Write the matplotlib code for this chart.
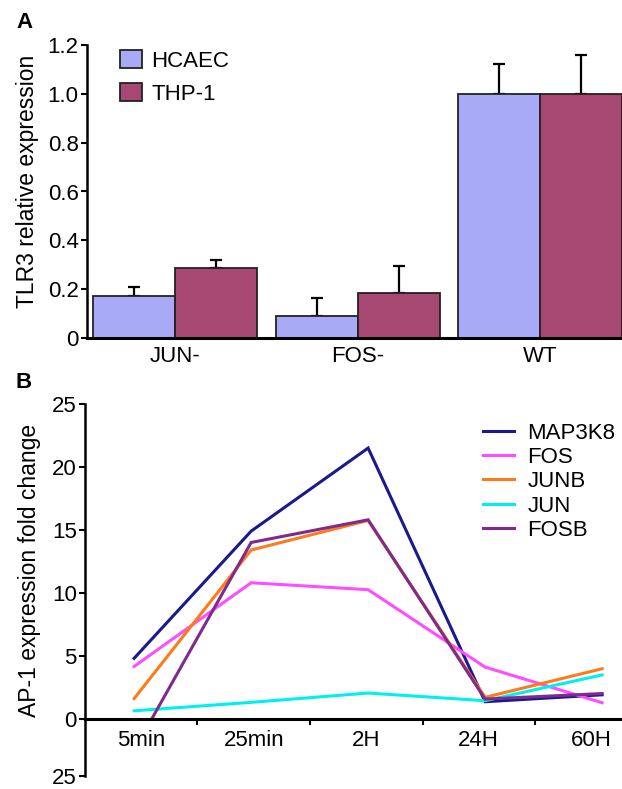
import matplotlib
matplotlib.use("Agg")
import matplotlib.pyplot as plt
from matplotlib.patches import Rectangle
import numpy as np

plt.rcParams['font.family'] = ['Liberation Sans', 'DejaVu Sans']

# ---- Panel A data ----
groups = ["JUN-", "FOS-", "WT"]
hcaec = [0.17, 0.09, 1.0]
hcaec_err = [0.037, 0.073, 0.124]
thp1 = [0.288, 0.186, 1.0]
thp1_err = [0.032, 0.107, 0.16]
a_yticks = [0, 0.2, 0.4, 0.6, 0.8, 1.0, 1.2]
a_yticklabels = ["0", "0.2", "0.4", "0.6", "0.8", "1.0", "1.2"]

# ---- Panel B data ----
timepoints = ["5min", "25min", "2H", "24H", "60H"]
MAP3K8 = [4.8, 14.9, 21.5, 1.35, 1.9]
FOS = [4.15, 10.8, 10.25, 4.1, 1.27]
JUNB = [1.6, 13.4, 15.75, 1.7, 3.97]
JUN = [0.63, 1.3, 2.04, 1.43, 3.48]
FOSB = [-2.5, 14.0, 15.8, 1.56, 2.0]
b_yticks = [-4.55, 0, 5, 10, 15, 20, 25]
b_yticklabels = ["25", "0", "5", "10", "15", "20", "25"]

W, H = 622, 789
fig = plt.figure(figsize=(W / 100, H / 100), dpi=100)

FS = 16

# ---------------- Panel A ----------------
axA = fig.add_axes([87 / W, 1 - 338 / H, (W - 87) / W, (338 - 45) / H])
x = np.arange(len(groups))
bw = 0.45
c1 = "#A8AAF8"
c2 = "#A64872"
axA.bar(x - bw / 2, hcaec, bw, color=c1, edgecolor="#222222", linewidth=1.3,
        label="HCAEC", zorder=2)
axA.bar(x + bw / 2, thp1, bw, color=c2, edgecolor="#222222", linewidth=1.3,
        label="THP-1", zorder=2)
axA.errorbar(x - bw / 2, hcaec, yerr=[np.zeros(3), hcaec_err], fmt="none",
             ecolor="black", elinewidth=1.6, capsize=4, capthick=1.6, zorder=1)
axA.errorbar(x + bw / 2, thp1, yerr=[np.zeros(3), thp1_err], fmt="none",
             ecolor="black", elinewidth=1.6, capsize=4, capthick=1.6, zorder=1)
axA.set_xlim(-0.484, 2.45)
axA.set_ylim(0, 1.2)
axA.set_yticks(a_yticks)
axA.set_yticklabels(a_yticklabels)
axA.set_xticks(x)
axA.set_xticklabels(groups)
axA.tick_params(axis="x", length=0, pad=6, labelsize=FS)
axA.tick_params(axis="y", length=4, width=1.5, direction="out", pad=2,
                labelsize=FS)
for s in ["top", "right"]:
    axA.spines[s].set_visible(False)
axA.spines["left"].set_linewidth(1.8)
axA.spines["bottom"].set_linewidth(2.2)
axA.set_ylabel("TLR3 relative expression", fontsize=16.5)
axA.yaxis.set_label_coords(-0.09, 0.534)
leg = axA.legend(loc="upper left", bbox_to_anchor=(0.062, 0.983), frameon=False,
                 fontsize=FS, handlelength=1.0, handleheight=0.9,
                 handletextpad=0.4, labelspacing=0.5, borderaxespad=0,
                 borderpad=0)
fig.text(24 / W, 1 - 23 / H, "A", fontsize=16, fontweight="bold",
         ha="center", va="center")

# ---------------- Panel B ----------------
axB = fig.add_axes([85 / W, 1 - 776 / H, (W - 85) / W, (776 - 404) / H])
xb = np.arange(len(timepoints))
series = [("MAP3K8", MAP3K8, "#1A1A8C"),
          ("FOS", FOS, "#FF4DFF"),
          ("JUNB", JUNB, "#FF7A1A"),
          ("JUN", JUN, "#00F0F0"),
          ("FOSB", FOSB, "#7F2A8C")]
xmin, xmax = -0.42, 4.17
for name, vals, col in series:
    ln, = axB.plot(xb, vals, color=col, linewidth=2.2, label=name,
                   solid_joinstyle="miter")
    clip = Rectangle((xmin, 0), xmax - xmin, 40, transform=axB.transData)
    ln.set_clip_path(clip)
axB.set_xlim(xmin, xmax)
axB.set_ylim(-4.55, 25)
axB.set_yticks(b_yticks)
axB.set_yticklabels(b_yticklabels)
# category labels sit on a slightly tighter grid than the data points
label_pos = 0.06 + xb * 0.962
axB.set_xticks(label_pos)
axB.set_xticklabels(timepoints)
axB.set_xticks((label_pos[:-1] + label_pos[1:]) / 2, minor=True)
axB.tick_params(axis="x", which="major", length=0, pad=8, labelsize=FS)
axB.tick_params(axis="x", which="minor", length=4, width=1.5, direction="out")
axB.tick_params(axis="y", length=4, width=1.5, direction="out", pad=2,
                labelsize=FS)
for s in ["top", "right"]:
    axB.spines[s].set_visible(False)
axB.spines["bottom"].set_position(("data", 0))
axB.spines["left"].set_linewidth(1.8)
axB.spines["bottom"].set_linewidth(2.2)
axB.set_ylabel("AP-1 expression fold change", fontsize=16.5)
axB.yaxis.set_label_coords(-0.082, 0.553)
axB.legend(loc="upper left", bbox_to_anchor=(0.741, 0.95), frameon=False,
           fontsize=FS, handlelength=1.4, handletextpad=0.6,
           labelspacing=0.15, borderaxespad=0, borderpad=0)
fig.text(24 / W, 1 - 383 / H, "B", fontsize=16, fontweight="bold",
         ha="center", va="center")

fig.savefig("out.png", dpi=100)
